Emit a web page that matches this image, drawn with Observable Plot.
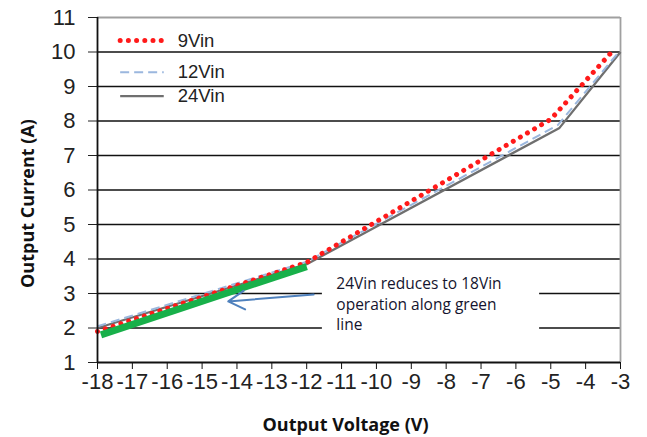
<!DOCTYPE html>
<html>
<head>
<meta charset="utf-8">
<script src="https://cdn.jsdelivr.net/npm/d3@7"></script>
<script src="https://cdn.jsdelivr.net/npm/@observablehq/plot@0.6"></script>
<style>
  html, body { margin: 0; padding: 0; background: #fff; }
  #chart svg { display: block; }
</style>
</head>
<body>
<div id="chart"></div>
<script>
// ---- data ----
const xTickValues = [-18, -17, -16, -15, -14, -13, -12, -11, -10, -9, -8, -7, -6, -5, -4, -3];
const yTickValues = [1, 2, 3, 4, 5, 6, 7, 8, 9, 10, 11];
const gridValues = [2, 3, 4, 5, 6, 7, 8, 9, 10];

const seriesNames = ["9Vin", "12Vin", "24Vin"];
const v9x = [-18, -12, -5, -3.25];
const v9y = [1.9, 3.9, 8.05, 10.0];
const v12x = [-18, -12, -4.8, -3.05];
const v12y = [2.05, 3.92, 7.88, 10.0];
const v24x = [-18, -12, -4.75, -3];
const v24y = [2.0, 3.85, 7.8, 10.0];
const greenX = [-17.9, -12];
const greenY = [1.8, 3.78];

const arrowFrom = [-11.8, 2.97];
const arrowTo = [-14.25, 2.77];
const noteText = "24Vin reduces to 18Vin\noperation along green\nline";
const notePos = [-11.15, 2.72];
const noteBox = [-11.55, -5.32, 1.78, 3.67];

const legendX = [-17.35, -16.1, -15.7];
const legendY = [10.33, 9.41, 8.72];

// ---- build ----
const pts = (xs, ys) => xs.map((x, i) => ({x, y: ys[i]}));
const colors = {"9Vin": "#ff1a1a", "12Vin": "#9bb7de", "24Vin": "#6f6f6f"};
const styles = {
  "9Vin": {stroke: colors["9Vin"], strokeWidth: 5, strokeDasharray: "0.01,8.2", strokeLinecap: "round"},
  "12Vin": {stroke: colors["12Vin"], strokeWidth: 2, strokeDasharray: "9,5", strokeLinecap: "butt"},
  "24Vin": {stroke: colors["24Vin"], strokeWidth: 2.3, strokeLinecap: "butt"}
};
const legendRows = seriesNames.map((s, i) => ({s, x1: legendX[0], x2: legendX[1], xt: legendX[2], y: legendY[i]}));

const chart = Plot.plot({
  width: 647,
  height: 437,
  marginLeft: 97,
  marginRight: 27,
  marginTop: 17,
  marginBottom: 75,
  style: {fontFamily: "Liberation Sans, Arial, sans-serif", background: "#fff", overflow: "visible"},
  x: {domain: [-18, -3]},
  y: {domain: [1, 11]},
  marks: [
    Plot.ruleY(gridValues, {stroke: "#111", strokeWidth: 1.6}),
    Plot.ruleY([11], {stroke: "#a0a0a0", strokeWidth: 1.8}),
    Plot.ruleX([-3], {stroke: "#a0a0a0", strokeWidth: 1.8}),
    Plot.rect([noteBox], {x1: d => d[0], x2: d => d[1], y1: d => d[2], y2: d => d[3], fill: "#fff"}),
    Plot.line(pts(v24x, v24y), {x: "x", y: "y", ...styles["24Vin"]}),
    Plot.line(pts(v12x, v12y), {x: "x", y: "y", ...styles["12Vin"]}),
    Plot.line(pts(v9x, v9y), {x: "x", y: "y", ...styles["9Vin"]}),
    Plot.line(pts(greenX, greenY), {x: "x", y: "y", stroke: "#18b04a", strokeWidth: 7, strokeLinecap: "butt"}),
    Plot.arrow([{}], {x1: arrowFrom[0], y1: arrowFrom[1], x2: arrowTo[0], y2: arrowTo[1], stroke: "#4f81bd", strokeWidth: 2, headLength: 14, bend: 0}),
    Plot.text([noteText], {x: notePos[0], y: notePos[1], text: d => d, textAnchor: "start", lineAnchor: "middle", lineHeight: 1.3, fontSize: 15.5, fill: "#14142e", fontFamily: "Open Sans, sans-serif", letterSpacing: "-0.2px"}),
    // legend
    ...legendRows.map(r => Plot.link([r], {x1: "x1", x2: "x2", y1: "y", y2: "y", ...styles[r.s]})),
    Plot.text(legendRows, {x: "xt", y: "y", text: "s", textAnchor: "start", fontSize: 18.5, fill: "#222"}),
    // axes
    Plot.axisX({ticks: xTickValues, tickFormat: d => String(d), tickSize: 7, tickPadding: 4, fontSize: 22, label: null, stroke: "#111", color: "#222"}),
    Plot.axisY({ticks: yTickValues, tickFormat: d => String(d), tickSize: 9, tickPadding: 13, fontSize: 22, label: null, color: "#222"}),
    Plot.ruleX([-18], {stroke: "#111", strokeWidth: 1.8}),
    Plot.ruleY([1], {stroke: "#111", strokeWidth: 1.8}),
    // titles
    Plot.text(["Output Current (A)"], {frameAnchor: "left", textAnchor: "middle", lineAnchor: "middle", rotate: -90, dx: -69, dy: 13.5, text: d => d, fontSize: 18, letterSpacing: "0.5px", fontWeight: "bold", fill: "#111", fontFamily: "Open Sans, sans-serif"}),
    Plot.text(["Output Voltage (V)"], {frameAnchor: "bottom", textAnchor: "middle", lineAnchor: "middle", dx: -13.5, dy: 63, text: d => d, fontSize: 18, letterSpacing: "0.5px", fontWeight: "bold", fill: "#111", fontFamily: "Open Sans, sans-serif"})
  ]
});
document.getElementById("chart").appendChild(chart);
</script>
</body>
</html>
